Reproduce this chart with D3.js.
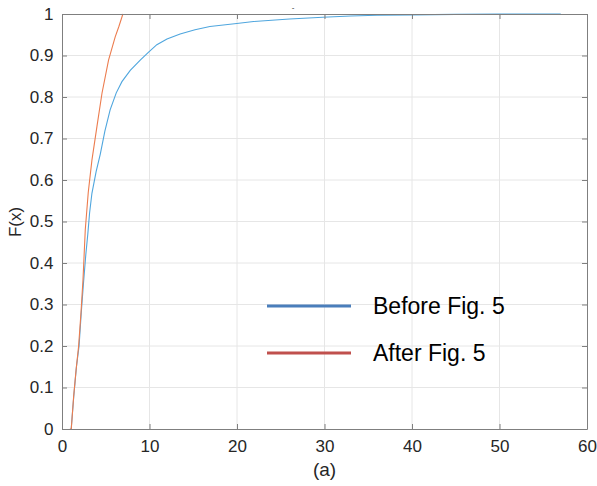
<!DOCTYPE html>
<html>
<head>
<meta charset="utf-8">
<script src="https://cdn.jsdelivr.net/npm/d3@7"></script>
<style>
  body { margin: 0; background: #fff; }
  text { font-family: "Liberation Sans", Arial, sans-serif; fill: #262626; }
  .tick text { font-size: 17px; }
</style>
</head>
<body>
<svg id="chart" width="597" height="486"></svg>
<script>
// CDF before Fig. 5
const beforeData = [
  [1.05, 0], [1.35, 0.08], [1.65, 0.15], [1.95, 0.2], [2.2, 0.28], [2.45, 0.35],
  [2.72, 0.42], [2.95, 0.47], [3.15, 0.52], [3.42, 0.568], [3.9, 0.62], [4.37, 0.662],
  [4.9, 0.718], [5.5, 0.769], [6.2, 0.81], [6.85, 0.837], [7.8, 0.864], [8.94, 0.889],
  [9.9, 0.908], [10.84, 0.926], [12, 0.94], [13.5, 0.952], [15.2, 0.962],
  [16.9, 0.97], [19.97, 0.977], [21.9, 0.982], [26, 0.988], [29.8, 0.992],
  [33, 0.995], [36, 0.997], [40, 0.998], [45, 0.999], [50, 1], [57, 1]
];
// CDF after Fig. 5
const afterData = [
  [0.9, 0], [1.06, 0], [1.33, 0.078], [1.6, 0.14], [1.9, 0.2], [2.17, 0.28],
  [2.4, 0.36], [2.66, 0.48], [3.0, 0.57], [3.42, 0.648], [4.0, 0.73], [4.57, 0.809],
  [5.32, 0.889], [6.08, 0.945], [6.5, 0.97], [6.96, 1]
];
const xTicks = [0, 10, 20, 30, 40, 50, 60];
const yTicks = [0, 0.1, 0.2, 0.3, 0.4, 0.5, 0.6, 0.7, 0.8, 0.9, 1];
const legendLabels = ["Before Fig. 5", "After Fig. 5"];

const svg = d3.select("#chart");
const mLeft = 62, mRight = 587, mTop = 14, mBottom = 429;

const x = d3.scaleLinear().domain([0, 60]).range([mLeft, mRight]);
const y = d3.scaleLinear().domain([0, 1]).range([mBottom, mTop]);

// grid
svg.append("g").selectAll("line").data(xTicks.slice(1, -1)).join("line")
  .attr("x1", d => x(d)).attr("x2", d => x(d)).attr("y1", mTop).attr("y2", mBottom)
  .attr("stroke", "#e6e6e6").attr("stroke-width", 1);
svg.append("g").selectAll("line").data(yTicks.slice(1, -1)).join("line")
  .attr("y1", d => y(d)).attr("y2", d => y(d)).attr("x1", mLeft).attr("x2", mRight)
  .attr("stroke", "#e6e6e6").attr("stroke-width", 1);

// curves
const line = d3.line().x(d => x(d[0])).y(d => y(d[1]));
svg.append("path").datum(beforeData).attr("d", line)
  .attr("fill", "none").attr("stroke", "#4fa6de").attr("stroke-width", 1.1);
svg.append("path").datum(afterData).attr("d", line)
  .attr("fill", "none").attr("stroke", "#ec7c4e").attr("stroke-width", 1.1);

// axes (box with inward ticks)
const axisColor = "#7f7f7f";
svg.append("g").attr("transform", `translate(0,${mBottom})`)
  .call(d3.axisBottom(x).tickValues(xTicks).tickSizeInner(-5).tickSizeOuter(0).tickPadding(11))
  .call(g => g.selectAll("text").attr("fill", "#262626"));
svg.append("g").attr("transform", `translate(0,${mTop})`)
  .call(d3.axisTop(x).tickValues(xTicks).tickSizeInner(-5).tickSizeOuter(0).tickFormat(""));
svg.append("g").attr("transform", `translate(${mLeft},0)`)
  .call(d3.axisLeft(y).tickValues(yTicks).tickSizeInner(-5).tickSizeOuter(0).tickPadding(8.5).tickFormat(d3.format("")))
  .call(g => g.selectAll("text").attr("fill", "#262626"));
svg.append("g").attr("transform", `translate(${mRight},0)`)
  .call(d3.axisRight(y).tickValues(yTicks).tickSizeInner(-5).tickSizeOuter(0).tickFormat(""));
svg.selectAll(".domain").attr("stroke", axisColor);
svg.selectAll(".tick line").attr("stroke", axisColor);

// labels
svg.append("text").attr("x", (mLeft + mRight) / 2).attr("y", 476)
  .attr("text-anchor", "middle").style("font-size", "19px").text("(a)");
svg.append("text").attr("transform", "translate(21,222) rotate(-90)")
  .attr("text-anchor", "middle").style("font-size", "17px").text("F(x)");
svg.append("text").attr("x", 293).attr("y", 10)
  .attr("text-anchor", "middle").style("font-size", "8px").text("-");

// legend
const legendColors = ["#4a7ebb", "#c0504d"];
const lg = svg.append("g");
legendLabels.forEach((lab, i) => {
  const ly = 306 + i * 47;
  lg.append("line").attr("x1", 267).attr("x2", 351).attr("y1", ly).attr("y2", ly)
    .attr("stroke", legendColors[i]).attr("stroke-width", 3);
  lg.append("text").attr("x", 373).attr("y", ly + 8).style("font-size", "23px")
    .style("fill", "#000").text(lab);
});
</script>
</body>
</html>
